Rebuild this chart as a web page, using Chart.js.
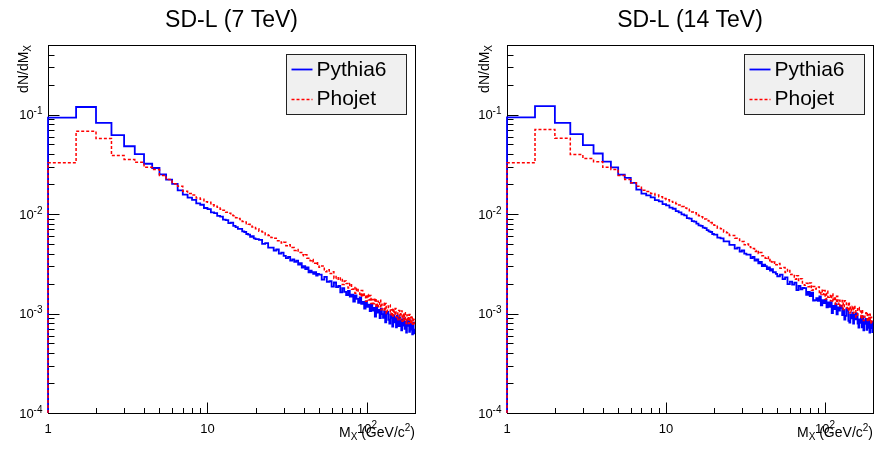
<!DOCTYPE html>
<html>
<head>
<meta charset="utf-8">
<script src="https://cdn.jsdelivr.net/npm/chart.js@4.4.1/dist/chart.umd.min.js"></script>
<style>
    body { margin: 0; background: #fff; width: 875px; height: 453px; overflow: hidden; position: relative; }
    canvas { position: absolute; top: 0; }
</style>
</head>
<body>
<canvas id="panel7" width="437" height="453" style="left:0"></canvas>
<canvas id="panel14" width="438" height="453" style="left:437px"></canvas>
<script>
const X_MIN = 1, X_MAX = 200, Y_MIN = 1e-4, Y_MAX = 0.5;

const panelTitles = ['SD-L (7 TeV)', 'SD-L (14 TeV)'];
const seriesNames = ['Pythia6', 'Phojet'];

// bin layout [from, to, width] in GeV/c^2
const binSegments = [[1, 20, 0.5], [20, 50, 1], [50, 200, 2]];

const xTickValues = [1, 10, 100];
const xTickBases = ['1', '10', '10'];
const xTickExponents = ['', '', '2'];
const yTickValues = [1e-4, 1e-3, 1e-2, 1e-1];
const yTickExponents = ['-4', '-3', '-2', '-1'];

// 7 TeV
const pythia7 = [
    0.093, 0.119, 0.0826, 0.062, 0.048, 0.040, 0.032, 0.029, 0.025, 0.0222, 0.0201, 0.0173, 0.0157,
    0.0146, 0.0139, 0.0128, 0.0124, 0.0115, 0.0112, 0.0104, 0.0102, 0.0096, 0.0094,
    0.0088, 0.0087, 0.0081, 0.0082, 0.0076, 0.0074, 0.0071, 0.0071, 0.0067, 0.0066,
    0.0063, 0.0062, 0.0059, 0.0060, 0.0057,
    0.0056, 0.0055, 0.0050, 0.0051, 0.0046, 0.0046, 0.0043, 0.0044, 0.0040, 0.0041,
    0.0038, 0.0036, 0.0037, 0.0034, 0.0035, 0.0033, 0.0034, 0.0031, 0.0032, 0.0029,
    0.0030, 0.0028, 0.0029, 0.0026, 0.0027, 0.0026, 0.0025, 0.0026, 0.0024, 0.0025,
    0.00246, 0.00219, 0.00233, 0.00208, 0.00211, 0.00186, 0.00205, 0.00184, 0.00189, 0.00163,
    0.00180, 0.00165, 0.00153, 0.00169, 0.00148, 0.00155, 0.00132, 0.00152, 0.00140, 0.00128,
    0.00145, 0.00125, 0.00131, 0.00112, 0.00132, 0.00117, 0.00123, 0.00106, 0.00124, 0.00107,
    0.00114, 0.000933, 0.00118, 0.00102, 0.00109, 0.000900, 0.00112, 0.000985, 0.000903, 0.00105,
    0.000813, 0.00100, 0.00104, 0.000866, 0.000792, 0.000980, 0.000907, 0.000738, 0.000956, 0.000816,
    0.000913, 0.000728, 0.000950, 0.000811, 0.000747, 0.000916, 0.000827, 0.000676, 0.000874, 0.000756,
    0.000895, 0.000700, 0.000822, 0.000644, 0.000859, 0.000750, 0.000837, 0.000655, 0.000852, 0.000689,
    0.000780, 0.000618, 0.000811, 0.000690, 0.000633
];
const phojet7 = [
    0.0327, 0.068, 0.0574, 0.0387, 0.0353, 0.0331, 0.0295, 0.028, 0.0244, 0.0222, 0.0202, 0.019, 0.0169,
    0.0161, 0.0155, 0.0145, 0.0141, 0.0133, 0.0131, 0.0124, 0.0120, 0.0117, 0.0112,
    0.0109, 0.0104, 0.0102, 0.0097, 0.0096, 0.0092, 0.0090, 0.0088, 0.0084, 0.0083,
    0.0080, 0.0079, 0.0076, 0.0074, 0.0073,
    0.0071, 0.0067, 0.0066, 0.0062, 0.0061, 0.0058, 0.0057, 0.0054, 0.0054, 0.0051,
    0.0052, 0.0048, 0.0049, 0.0046, 0.0046, 0.0043, 0.0044, 0.0041, 0.0041, 0.0039,
    0.0038, 0.0039, 0.0036, 0.0036, 0.0034, 0.0035, 0.0033, 0.0032, 0.0033, 0.0030,
    0.00291, 0.00300, 0.00263, 0.00275, 0.00252, 0.00263, 0.00225, 0.00236, 0.00217, 0.00228,
    0.00196, 0.00212, 0.00200, 0.00181, 0.00200, 0.00175, 0.00183, 0.00160, 0.00179, 0.00164,
    0.00150, 0.00170, 0.00148, 0.00157, 0.00133, 0.00155, 0.00137, 0.00152, 0.00126, 0.00138,
    0.00125, 0.00142, 0.00116, 0.00133, 0.00117, 0.00136, 0.00109, 0.00124, 0.00127, 0.00106,
    0.00126, 0.00100, 0.00108, 0.00120, 0.00122, 0.000976, 0.00109, 0.000922, 0.00111, 0.000974,
    0.00112, 0.000923, 0.000865, 0.00104, 0.00107, 0.000869, 0.000995, 0.00106, 0.000837, 0.000988,
    0.000859, 0.00102, 0.000873, 0.000793, 0.000965, 0.000905, 0.000792, 0.000978, 0.000814, 0.000919,
    0.000774, 0.000929, 0.000778, 0.000872, 0.000799
];

// 14 TeV
const pythia14 = [
    0.0937, 0.1217, 0.0826, 0.0635, 0.0492, 0.0406, 0.0337, 0.0295, 0.0249, 0.0231, 0.0206, 0.0176, 0.016,
    0.0154, 0.0147, 0.0138, 0.0134, 0.0126, 0.0122, 0.0116, 0.0113, 0.0107, 0.0104,
    0.0099, 0.0097, 0.0091, 0.0090, 0.0085, 0.0084, 0.0080, 0.0077, 0.0076, 0.0073,
    0.0072, 0.0069, 0.0067, 0.0066, 0.0063,
    0.0062, 0.0058, 0.0057, 0.0053, 0.0053, 0.0049, 0.0049, 0.0045, 0.0046, 0.0042,
    0.0043, 0.0040, 0.0039, 0.0039, 0.0036, 0.0037, 0.0034, 0.0035, 0.0032, 0.0033,
    0.0030, 0.0031, 0.0030, 0.0028, 0.0029, 0.0027, 0.0028, 0.0026, 0.0026, 0.0025,
    0.00237, 0.00246, 0.00222, 0.00231, 0.00197, 0.00209, 0.00195, 0.00204, 0.00172, 0.00189,
    0.00175, 0.00181, 0.00180, 0.00154, 0.00165, 0.00150, 0.00162, 0.00135, 0.00136, 0.00143,
    0.00134, 0.00149, 0.00121, 0.00136, 0.00127, 0.00137, 0.00115, 0.00129, 0.00117, 0.00130,
    0.00101, 0.00119, 0.00111, 0.00124, 0.000980, 0.00115, 0.00107, 0.00119, 0.00114, 0.000963,
    0.00109, 0.000867, 0.000947, 0.00111, 0.00107, 0.000845, 0.000808, 0.000971, 0.000894, 0.00102,
    0.000792, 0.000976, 0.000876, 0.00101, 0.000985, 0.000791, 0.000723, 0.000872, 0.000805, 0.000917,
    0.000724, 0.000934, 0.000678, 0.000852, 0.000787, 0.000884, 0.000684, 0.000859, 0.000718, 0.000874,
    0.000644, 0.000798, 0.000715, 0.000828, 0.000650
];
const phojet14 = [
    0.0327, 0.0708, 0.0578, 0.0396, 0.0361, 0.0336, 0.0295, 0.028, 0.0244, 0.0222, 0.0206, 0.019, 0.0173,
    0.0168, 0.0161, 0.0155, 0.0149, 0.0143, 0.0139, 0.0134, 0.0131, 0.0127, 0.0123,
    0.0119, 0.0115, 0.0112, 0.0108, 0.0105, 0.0103, 0.0099, 0.0096, 0.0094, 0.0091,
    0.0089, 0.0086, 0.0085, 0.0082, 0.0080,
    0.0077, 0.0072, 0.0071, 0.0066, 0.0065, 0.0061, 0.0061, 0.0057, 0.0056, 0.0053,
    0.0053, 0.0049, 0.0050, 0.0047, 0.0046, 0.0045, 0.0042, 0.0043, 0.0040, 0.0041,
    0.0038, 0.0038, 0.0036, 0.0037, 0.0034, 0.0035, 0.0033, 0.0032, 0.0033, 0.0031,
    0.00318, 0.00285, 0.00290, 0.00258, 0.00277, 0.00246, 0.00248, 0.00221, 0.00240, 0.00215,
    0.00224, 0.00195, 0.00192, 0.00201, 0.00186, 0.00203, 0.00171, 0.00187, 0.00176, 0.00185,
    0.00185, 0.00156, 0.00171, 0.00155, 0.00170, 0.00140, 0.00167, 0.00146, 0.00152, 0.00134,
    0.00157, 0.00133, 0.00147, 0.00124, 0.00149, 0.00124, 0.00136, 0.00116, 0.00117, 0.00135,
    0.00110, 0.00134, 0.00131, 0.00115, 0.00107, 0.00130, 0.00101, 0.00116, 0.00106, 0.00118,
    0.00101, 0.00120, 0.00113, 0.000920, 0.000941, 0.00114, 0.00115, 0.00105, 0.00106, 0.000885,
    0.00109, 0.000906, 0.000849, 0.000917, 0.000965, 0.00101, 0.00104, 0.000827, 0.000974, 0.000847,
    0.000981, 0.000804, 0.000919, 0.000807, 0.000833
];

const binLowEdges = [];
binSegments.forEach(([from, to, width]) => {
    for (let e = from; e < to - 1e-9; e += width) binLowEdges.push(+e.toFixed(2));
});

// ROOT-style histogram outline: rises from the axis minimum at the first edge
function histPoints(values) {
    const pts = [{ x: binLowEdges[0], y: Y_MIN }];
    values.forEach((v, i) => pts.push({ x: binLowEdges[i], y: v }));
    pts.push({ x: X_MAX, y: values[values.length - 1] });
    return pts;
}

const FONT = "'Liberation Sans', Arial, Helvetica, sans-serif";
function font(size) { return size + 'px ' + FONT; }

function drawRich(ctx, parts, x, y, align) {
    let w = 0;
    parts.forEach(p => { ctx.font = font(p.size); p.w = ctx.measureText(p.text).width; w += p.w; });
    let cx = align === 'right' ? x - w : align === 'center' ? x - w / 2 : x;
    ctx.textAlign = 'left';
    ctx.textBaseline = 'alphabetic';
    parts.forEach(p => {
        ctx.font = font(p.size);
        ctx.fillText(p.text, cx, y + (p.dy || 0));
        cx += p.w;
    });
}

const rootAxes = {
    id: 'rootAxes',
    beforeDatasetsDraw(chart, args, opts) {
        const { ctx, chartArea: a, scales: { x, y } } = chart;
        const L = Math.round(a.left) + 0.5, R = Math.round(a.right) + 0.5;
        const T = Math.round(a.top) + 0.5, B = Math.round(a.bottom) + 0.5;
        ctx.save();
        ctx.strokeStyle = '#000';
        ctx.fillStyle = '#000';
        ctx.lineWidth = 1;
        ctx.strokeRect(L, T, R - L, B - T);

        // ticks point inwards
        ctx.beginPath();
        [1, 10, 100].forEach(d => {
            for (let m = 1; m <= 9; m++) {
                const v = m * d;
                if (v > X_MAX) break;
                const px = Math.round(x.getPixelForValue(v)) + 0.5;
                ctx.moveTo(px, B);
                ctx.lineTo(px, B - (m === 1 ? 11 : 5.5));
            }
        });
        yTickValues.forEach(d => {
            for (let m = 1; m <= 9; m++) {
                const v = m * d;
                if (v > Y_MAX + 1e-12) break;
                const py = Math.round(y.getPixelForValue(v)) + 0.5;
                ctx.moveTo(L, py);
                ctx.lineTo(L + (m === 1 ? 11 : 6), py);
            }
        });
        ctx.stroke();

        xTickValues.forEach((v, i) => {
            const parts = [{ text: xTickBases[i], size: 13 }];
            if (xTickExponents[i]) parts.push({ text: xTickExponents[i], size: 10, dy: -5 });
            drawRich(ctx, parts, x.getPixelForValue(v), 433, 'center');
        });
        yTickValues.forEach((v, i) => {
            drawRich(ctx, [{ text: '10', size: 13 }, { text: yTickExponents[i], size: 10, dy: -5 }],
                L - 6, y.getPixelForValue(v) + 4.5, 'right');
        });

        drawRich(ctx, [
            { text: 'M', size: 14 }, { text: 'X', size: 10, dy: 3 },
            { text: ' (GeV/c', size: 14 }, { text: '2', size: 10, dy: -6 }, { text: ')', size: 14 }
        ], a.right, 437, 'right');

        ctx.save();
        ctx.translate(opts.yTitleX, a.top);
        ctx.rotate(-Math.PI / 2);
        drawRich(ctx, [{ text: 'dN/dM', size: 14 }, { text: 'X', size: 10, dy: 3 }], 0, 0, 'right');
        ctx.restore();

        ctx.font = font(23);
        ctx.textAlign = 'center';
        ctx.fillText(opts.title, (a.left + a.right) / 2, 27);
        ctx.restore();
    },
    afterDatasetsDraw(chart) {
        const { ctx, chartArea: a } = chart;
        const bx = Math.round(a.right) - 129 + 0.5, by = 54.5, bw = 120, bh = 60;
        ctx.save();
        ctx.fillStyle = '#f0f0f0';
        ctx.fillRect(bx, by, bw, bh);
        ctx.strokeStyle = '#222';
        ctx.lineWidth = 1;
        ctx.strokeRect(bx, by, bw, bh);
        const rows = [{ line: 69.5, text: 76 }, { line: 99.5, text: 105 }];
        chart.data.datasets.forEach((ds, i) => {
            ctx.beginPath();
            ctx.strokeStyle = ds.borderColor;
            ctx.lineWidth = ds.borderWidth;
            ctx.setLineDash(ds.borderDash || []);
            ctx.moveTo(bx + 5, rows[i].line);
            ctx.lineTo(bx + 26, rows[i].line);
            ctx.stroke();
            ctx.setLineDash([]);
            ctx.fillStyle = '#000';
            ctx.font = font(21);
            ctx.textAlign = 'left';
            ctx.fillText(ds.label, bx + 30, rows[i].text);
        });
        ctx.restore();
    }
};

function makePanel(canvasId, title, pythia, phojet, padding, yTitleX) {
    new Chart(document.getElementById(canvasId), {
        type: 'line',
        data: {
            datasets: [{
                label: seriesNames[0],
                data: histPoints(pythia),
                borderColor: '#0000ff',
                borderWidth: 1.8,
                stepped: true,
                pointRadius: 0,
                fill: false,
                order: 1,
                clip: 4
            }, {
                label: seriesNames[1],
                data: histPoints(phojet),
                borderColor: '#ff0000',
                borderWidth: 1.5,
                borderDash: [3, 2],
                stepped: true,
                pointRadius: 0,
                fill: false,
                order: 0,
                clip: 4
            }]
        },
        options: {
            responsive: false,
            animation: false,
            events: [],
            layout: { padding: padding },
            plugins: {
                legend: { display: false },
                tooltip: { enabled: false },
                rootAxes: { title: title, yTitleX: yTitleX }
            },
            scales: {
                x: { type: 'logarithmic', min: X_MIN, max: X_MAX, display: false },
                y: { type: 'logarithmic', min: Y_MIN, max: Y_MAX, display: false }
            }
        },
        plugins: [rootAxes]
    });
}

makePanel('panel7', panelTitles[0], pythia7, phojet7, { left: 48, right: 22, top: 45, bottom: 40 }, 27.5);
makePanel('panel14', panelTitles[1], pythia14, phojet14, { left: 70, right: 2, top: 45, bottom: 40 }, 52);
</script>
</body>
</html>
